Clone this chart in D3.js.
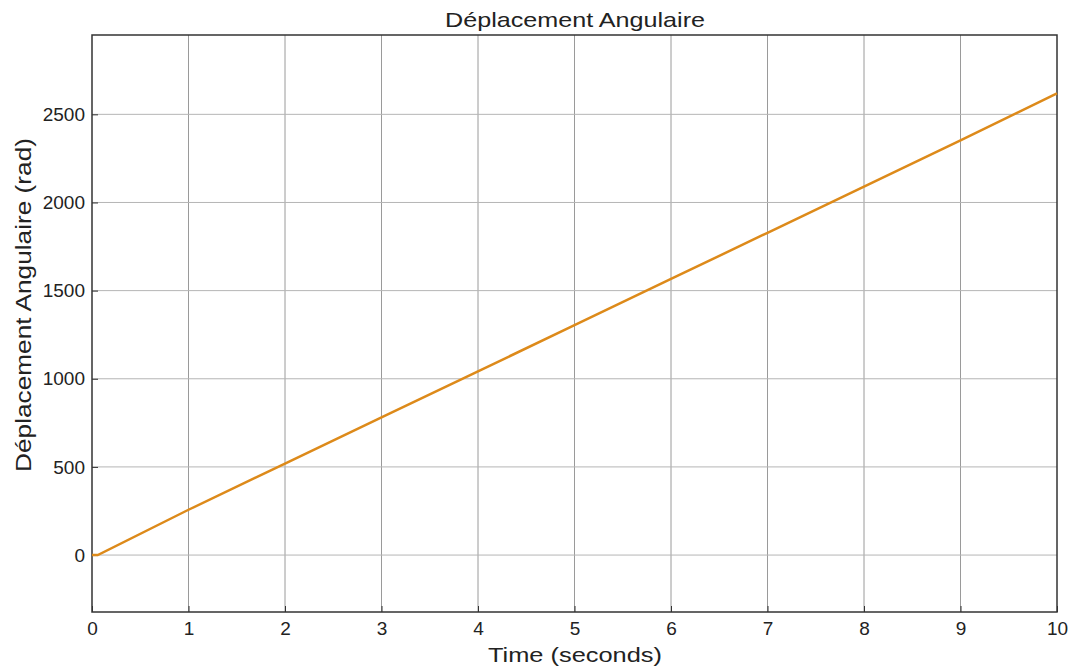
<!DOCTYPE html>
<html>
<head>
<meta charset="utf-8">
<script src="https://cdn.jsdelivr.net/npm/d3@7"></script>
<style>
  body { margin: 0; background: #fff; }
  svg text { font-family: "Liberation Sans", Arial, sans-serif; fill: #222; }
</style>
</head>
<body>
<svg id="chart" width="1075" height="672"></svg>
<script>
// values
var timeSec = [0, 0.06, 1, 2, 3, 4, 5, 6, 7, 8, 9, 10];
var angleRad = [0, 0, 257, 519, 781, 1042, 1304, 1566, 1828, 2090, 2352, 2619];
var xTicks = [0, 1, 2, 3, 4, 5, 6, 7, 8, 9, 10];
var yTicks = [0, 500, 1000, 1500, 2000, 2500];

var svg = d3.select('#chart');
var m = {left: 92, right: 1075 - 1057, top: 35, bottom: 672 - 612};
var w = 1075 - m.left - m.right, h = 672 - m.top - m.bottom;

var x = d3.scaleLinear().domain([0, 10]).range([0, w]);
var y = d3.scaleLinear().domain([-323, 2950]).range([h, 0]);

var g = svg.append('g').attr('transform', 'translate(' + m.left + ',' + m.top + ')');

// grid
g.selectAll('line.vgrid').data(xTicks.slice(1, -1)).enter().append('line')
    .attr('class', 'vgrid')
    .attr('x1', function (d) { return x(d); }).attr('x2', function (d) { return x(d); })
    .attr('y1', 0).attr('y2', h)
    .attr('stroke', '#9a9a9a').attr('stroke-width', 1);
g.selectAll('line.hgrid').data(yTicks).enter().append('line')
    .attr('class', 'hgrid')
    .attr('y1', function (d) { return y(d); }).attr('y2', function (d) { return y(d); })
    .attr('x1', 0).attr('x2', w)
    .attr('stroke', '#b5b5b5').attr('stroke-width', 1);

// axes
var xAxis = g.append('g').attr('transform', 'translate(0,' + h + ')')
    .call(d3.axisBottom(x).tickValues(xTicks).tickFormat(d3.format('d')).tickSize(-6).tickPadding(10));
var yAxis = g.append('g')
    .call(d3.axisLeft(y).tickValues(yTicks).tickFormat(d3.format('d')).tickSize(-6).tickPadding(7));
[xAxis, yAxis].forEach(function (a) {
    a.select('.domain').remove();
    a.selectAll('line').attr('stroke', '#333');
    a.selectAll('text').style('font-size', '19px').attr('fill', '#222')
        .style('font-family', '"Liberation Sans", Arial, sans-serif');
});

// frame
g.append('rect').attr('x', 0).attr('y', 0).attr('width', w).attr('height', h)
    .attr('fill', 'none').attr('stroke', '#333').attr('stroke-width', 1.5);

// series
var line = d3.line().x(function (d, i) { return x(timeSec[i]); }).y(function (d) { return y(d); });
g.append('path').datum(angleRad)
    .attr('d', line)
    .attr('fill', 'none')
    .attr('stroke', '#dd8a1a')
    .attr('stroke-width', 2.5);

// labels
svg.append('text').attr('x', 575).attr('y', 27)
    .attr('text-anchor', 'middle').style('font-size', '21px')
    .attr('textLength', 260).attr('lengthAdjust', 'spacingAndGlyphs')
    .text('Déplacement Angulaire');
svg.append('text').attr('x', 575).attr('y', 662)
    .attr('text-anchor', 'middle').style('font-size', '21px')
    .attr('textLength', 174).attr('lengthAdjust', 'spacingAndGlyphs')
    .text('Time (seconds)');
svg.append('text')
    .attr('transform', 'translate(31,' + 305 + ') rotate(-90)')
    .attr('text-anchor', 'middle').style('font-size', '22px')
    .attr('textLength', 334).attr('lengthAdjust', 'spacingAndGlyphs')
    .text('Déplacement Angulaire (rad)');
</script>
</body>
</html>
